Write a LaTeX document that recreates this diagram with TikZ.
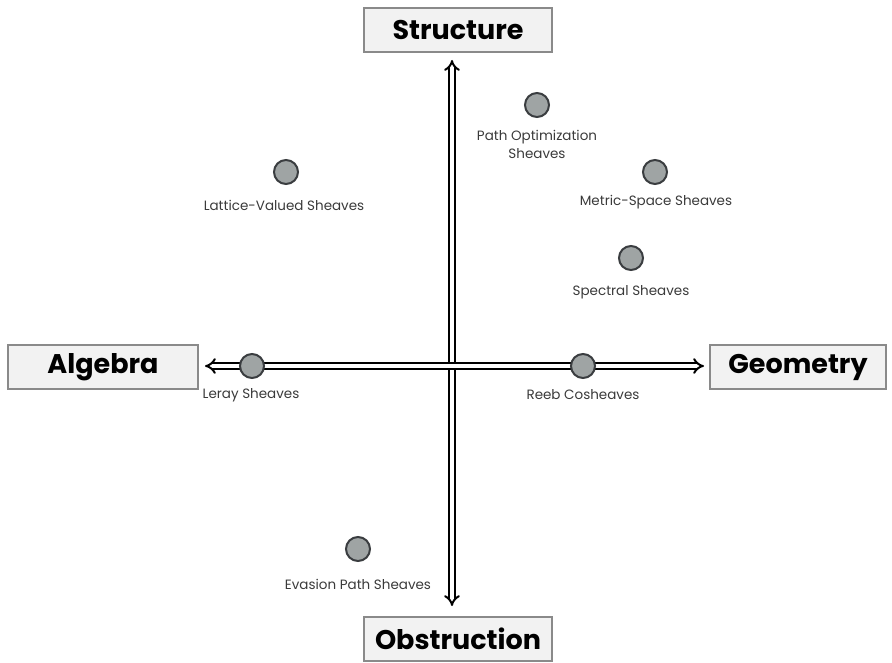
\documentclass[tikz,border=0pt]{standalone}
\usepackage{fontspec}
\setmainfont{Poppins}
\usetikzlibrary{arrows.meta}
\definecolor{boxfill}{HTML}{F2F2F2}
\definecolor{boxline}{HTML}{8A8A8A}
\definecolor{dotfill}{HTML}{9FA4A4}
\definecolor{dotline}{HTML}{3A3D40}
\definecolor{lbl}{HTML}{3A3A3A}
\tikzset{
  title/.style={draw=boxline, line width=2pt, fill=boxfill, font=\bfseries\fontsize{27}{30}\selectfont, minimum height=44pt, inner xsep=6pt},
  dot/.style={circle, draw=dotline, line width=2pt, fill=dotfill, minimum size=24pt, inner sep=0pt},
  lab/.style={font=\fontsize{13.5}{18}\selectfont, text=lbl, align=center, inner sep=0pt},
  axis/.style={double=white, double distance=3.2pt, line width=2pt, {Implies[scale=1.7]}-{Implies[scale=1.7]}}
}
\begin{document}
\begin{tikzpicture}[x=1pt, y=-1pt]
\useasboundingbox (0,0) rectangle (892,663);
\node[title, minimum width=188pt] (S) at (458,30) {Structure};
\node[title, minimum width=188pt] (O) at (458,639) {Obstruction};
\node[title, minimum width=190pt] (A) at (103,367) {Algebra};
\node[title, minimum width=176pt] (G) at (798,367) {Geometry};
\coordinate (vt) at (452,60);
\coordinate (vb) at (452,606);
\coordinate (hl) at (205,366);
\coordinate (hr) at (704,366);
\draw[axis] (vt) -- (vb);
\draw[axis] (hl) -- (hr);
\node[dot] (p1) at (537,105) {};
\node[lab] (l1) at (537,144) {Path Optimization\\Sheaves};
\node[dot] (p2) at (286,172) {};
\node[lab] (l2) at (284,205) {Lattice-Valued Sheaves};
\node[dot] (p3) at (655,172) {};
\node[lab] (l3) at (656,202) {Metric-Space Sheaves};
\node[dot] (p4) at (631,258) {};
\node[lab] (l4) at (631,292) {Spectral Sheaves};
\node[dot] (p5) at (252,366) {};
\node[lab] (l5) at (251,395) {Leray Sheaves};
\node[dot] (p6) at (583,366) {};
\node[lab] (l6) at (583,395) {Reeb Cosheaves};
\node[dot] (p7) at (358,549) {};
\node[lab] (l7) at (358,584) {Evasion Path Sheaves};
\end{tikzpicture}
\end{document}
